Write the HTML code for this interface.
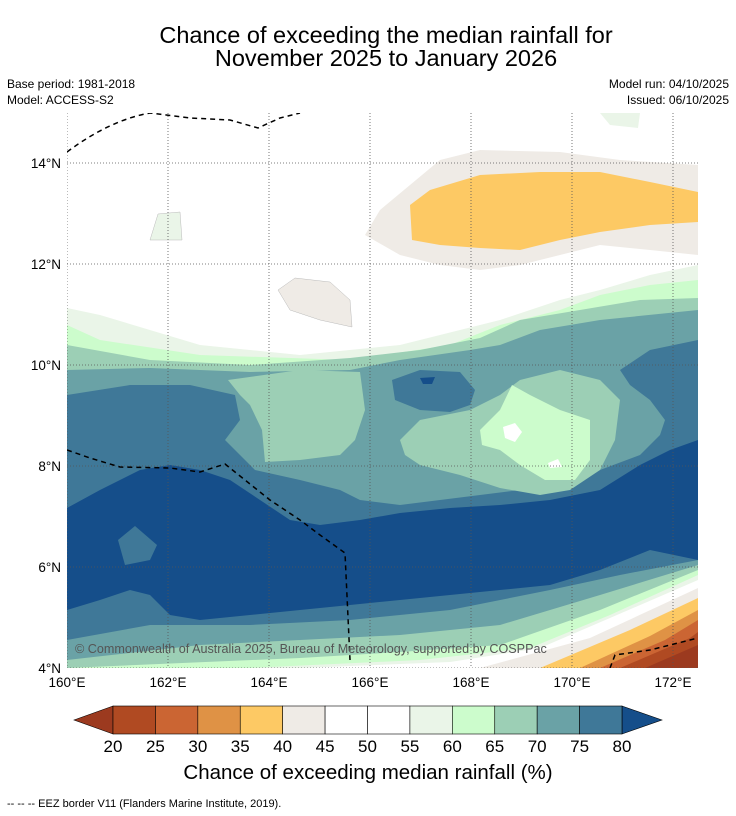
<!DOCTYPE html>
<html><head><meta charset="utf-8"><style>
body{margin:0;background:#fff;font-family:"Liberation Sans",sans-serif;}
svg{display:block}
text{font-family:"Liberation Sans",sans-serif;}
</style></head><body>
<svg id="chart" width="736" height="816">
<text x="386" y="43" font-size="23.5" text-anchor="middle">Chance of exceeding the median rainfall for</text>
<text x="386" y="66" font-size="23.5" text-anchor="middle">November 2025 to January 2026</text>
<text x="7" y="88" font-size="12">Base period: 1981-2018</text>
<text x="7" y="104" font-size="12">Model: ACCESS-S2</text>
<text x="729" y="88" font-size="12" text-anchor="end">Model run: 04/10/2025</text>
<text x="729" y="104" font-size="12" text-anchor="end">Issued: 06/10/2025</text>
<defs><clipPath id="mc"><rect x="67" y="113" width="631" height="555"/></clipPath></defs>
<g clip-path="url(#mc)">
<rect x="67" y="113" width="631" height="555" fill="#fff"/>
<polygon fill="#eaf5e8" points="67,308 100,315 200,345 300,355 400,345 500,320 560,300 600,290 650,275 698,265 698,668 67,668"/>
<polygon fill="#ccfccc" points="67,325 100,340 200,355 350,360 450,345 500,325 560,310 600,295 650,285 698,280 698,668 67,668"/>
<polygon fill="#9ccfb5" points="67,345 150,360 250,365 350,358 420,350 480,338 520,320 580,310 640,300 698,298 698,668 67,668"/>
<polygon fill="#6aa2a6" points="67,370 150,368 250,372 350,370 400,360 470,350 500,345 540,330 600,320 698,310 698,668 67,668"/>
<polygon fill="#3f7898" points="67,395 130,385 190,385 235,395 240,420 225,440 255,470 300,480 340,490 360,500 400,505 440,500 480,495 520,490 560,485 600,470 640,455 660,435 665,420 650,400 630,385 620,370 650,350 698,340 698,668 67,668"/>
<polygon fill="#154e8a" points="67,508 100,490 140,470 170,465 200,470 230,480 260,500 290,520 320,525 360,520 400,513 450,508 500,505 550,500 600,490 640,465 670,450 698,440 698,560 650,550 600,570 550,585 500,590 450,595 400,600 350,605 300,610 250,615 200,620 170,615 150,595 130,590 100,600 67,610"/>
<polygon fill="#3f7898" points="118,540 135,526 157,545 150,560 125,565"/>
<polygon fill="#6aa2a6" points="67,640 150,625 250,625 350,620 450,610 550,590 620,575 698,560 698,668 67,668"/>
<polygon fill="#9ccfb5" points="67,660 200,645 300,640 400,635 500,625 600,595 698,565 698,668 67,668"/>
<polygon fill="#ccfccc" points="67,668 300,658 400,652 500,645 600,610 698,570 698,668"/>
<polygon fill="#eaf5e8" points="250,668 420,660 530,648 610,615 698,575 698,668"/>
<polygon fill="#fff" points="300,668 450,662 540,648 610,618 698,580 698,668"/>
<polygon fill="#efebe6" points="480,668 590,638 698,588 698,668"/>
<polygon fill="#fdc964" points="540,668 630,630 698,598 698,668"/>
<polygon fill="#df9245" points="580,668 650,636 698,610 698,668"/>
<polygon fill="#cb6533" points="600,668 665,640 698,620 698,668"/>
<polygon fill="#b04a22" points="620,668 690,638 698,632 698,668"/>
<polygon fill="#9c3a1f" points="645,668 698,645 698,668"/>
<polygon fill="#9ccfb5" points="228,380 300,370 360,372 365,410 355,440 340,455 300,460 265,462 262,430 250,405 240,395"/>
<polygon fill="#9ccfb5" points="400,440 420,420 470,410 500,395 520,380 560,370 600,380 620,400 615,440 600,470 570,490 540,495 500,488 460,475 420,465 405,455"/>
<polygon fill="#ccfccc" points="480,430 500,410 512,385 530,395 560,410 590,420 590,460 575,480 545,480 520,465 500,450 482,445"/>
<polygon fill="#fff" points="503,427 515,423 522,432 515,442 505,438"/>
<polygon fill="#fff" points="548,463 558,459 562,467 550,468"/>
<polygon fill="#3f7898" points="392,380 420,370 460,372 475,390 470,405 450,412 420,410 395,400"/>
<polygon fill="#154e8a" points="420,378 435,377 432,384 423,384"/>
<polygon fill="#efebe6" points="365,235 380,210 410,185 440,160 480,150 560,152 620,160 698,165 698,255 650,250 600,245 560,255 520,265 480,270 440,265 400,255"/>
<polygon fill="#fdc964" points="410,205 430,190 480,175 540,172 600,172 650,182 698,192 698,222 650,225 600,232 560,240 520,250 480,248 440,245 412,240"/>
<polygon fill="#efebe6" stroke="#bbb" stroke-width="0.5" points="278,290 295,278 330,282 350,300 352,327 320,320 290,310"/>
<polygon fill="#eaf5e8" stroke="#bbb" stroke-width="0.5" points="150,240 158,214 180,212 182,240"/>
<polygon fill="#eaf5e8" points="600,113 640,113 638,128 610,125"/>
<g stroke="#555" stroke-width="0.8" stroke-dasharray="1,2" fill="none" id="grid"></g>
<g fill="none" stroke="#000" stroke-width="1.5" stroke-dasharray="5,4">
<path d="M67,152 Q110,120 150,113 L190,118 230,120 258,128 280,118 300,113"/>
<path d="M67,450 L90,458 120,467 170,468 200,472 225,464 245,480 270,500 300,520 320,535 345,553 350,660"/>
<path d="M610,668 L615,655 650,650 698,638"/>
</g>
<text x="75" y="653" font-size="12.6" fill="#555">© Commonwealth of Australia 2025, Bureau of Meteorology, supported by COSPPac</text>
</g>
<g id="axes" font-size="13.5"></g>
<g id="cbar"></g>
<text x="368" y="779" font-size="20.5" text-anchor="middle">Chance of exceeding median rainfall (%)</text>
<text x="7" y="807" font-size="11">--  --  -- EEZ border V11 (Flanders Marine Institute, 2019).</text>
</svg>
<script>
const lonTicks=[160,162,164,166,168,170,172];
const latTicks=[4,6,8,10,12,14];
const levels=[20,25,30,35,40,45,50,55,60,65,70,75,80];
const bandColors=["#b04a22","#cb6533","#df9245","#fdc964","#efebe6","#ffffff","#ffffff","#eaf5e8","#ccfccc","#9ccfb5","#6aa2a6","#3f7898"];
const lowColor="#9c3a1f", highColor="#154e8a";
const NS="http://www.w3.org/2000/svg";
const xLon=v=>67+(v-160)*50.5;
const yLat=v=>668-(v-4)*50.5;
function mk(t,a,p){const e=document.createElementNS(NS,t);for(const k in a)e.setAttribute(k,a[k]);p.appendChild(e);return e;}
const grid=document.getElementById('grid'),axes=document.getElementById('axes'),cb=document.getElementById('cbar');
lonTicks.forEach(v=>{
 const l=mk('line',{x1:xLon(v),x2:xLon(v),y1:113,y2:668},grid);
 
 
 const t=mk('text',{x:xLon(v),y:687,'text-anchor':'middle'},axes);t.textContent=v+'°E';
 
 
});
latTicks.forEach(v=>{
 const l=mk('line',{x1:67,x2:698,y1:yLat(v),y2:yLat(v)},grid);
 
 
 const t=mk('text',{x:61,y:yLat(v)+5,'text-anchor':'end'},axes);t.textContent=v+'°N';
 
 
});
const c0=113,c1=622,cy=706,ch=28,w=(c1-c0)/(levels.length-1);
const lt=mk('polygon',{points:`74,${cy+ch/2} ${c0},${cy} ${c0},${cy+ch}`,fill:lowColor,stroke:'#000','stroke-width':0.6},cb);


const ht=mk('polygon',{points:`662,${cy+ch/2} ${c1},${cy} ${c1},${cy+ch}`,fill:highColor,stroke:'#000','stroke-width':0.6},cb);


bandColors.forEach((c,i)=>{
 const r=mk('rect',{x:c0+i*w,y:cy,width:w,height:ch,fill:c,stroke:'#000','stroke-width':0.6},cb);
 
 
});
levels.forEach((v,i)=>{
 const t=mk('text',{x:c0+i*w,y:752,'text-anchor':'middle','font-size':17},cb);t.textContent=v;
 
 
});
</script>
</body></html>
